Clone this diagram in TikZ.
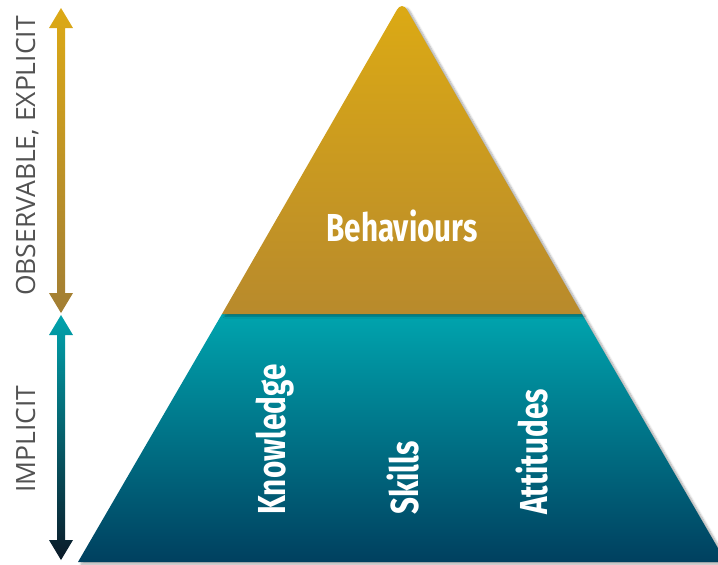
\documentclass[tikz,border=0pt]{standalone}
\usepackage{fontspec}
\setmainfont{Open Sans}
\newfontfamily\condfont[FakeStretch=0.76]{Fira Sans}
\usetikzlibrary{shadows.blur}
\definecolor{goldtop}{HTML}{DCAA14}
\definecolor{goldbot}{HTML}{B88A2C}
\definecolor{tealtop}{HTML}{00A4AE}
\definecolor{tealbot}{HTML}{00405F}
\definecolor{arrgoldtop}{HTML}{DCA916}
\definecolor{arrgoldbot}{HTML}{A27E34}
\definecolor{arrtealtop}{HTML}{00A3AD}
\definecolor{arrtealbot}{HTML}{0B1A28}
\tikzset{
  pyrshadow/.style={blur shadow={shadow xshift=3pt, shadow yshift=-2pt, shadow blur steps=6, shadow opacity=35}},
  sidelabel/.style={rotate=90, anchor=base, text=black!68, font=\fontsize{26.5}{26.5}\selectfont, inner sep=0pt},
  inlabel/.style={text=white, font=\condfont\bfseries\fontsize{39}{39}\selectfont, inner sep=0pt},
}
\begin{document}
\begin{tikzpicture}[x=1pt,y=-1pt]
\useasboundingbox (0,0) rectangle (718,565);
\clip (0,0) rectangle (718,565);
% pyramid lower part
\shade[pyrshadow, top color=tealtop, bottom color=tealbot]
  (78,562) -- (222,314) -- (582,314) -- (726,562) -- cycle;
% pyramid upper part
\shade[pyrshadow, top color=goldtop, bottom color=goldbot]
  (222,314) [rounded corners=10pt] -- (402,1) [sharp corners] -- (582,314) -- cycle;
% left arrows
\shade[top color=arrgoldtop, bottom color=arrgoldbot]
  (61,8) -- (73,28) -- (65,28) -- (65,293) -- (73,293) -- (61,313) -- (49,293) -- (57,293) -- (57,28) -- (49,28) -- cycle;
\shade[top color=arrtealtop, bottom color=arrtealbot]
  (61,315) -- (73,335) -- (65,335) -- (65,540) -- (73,540) -- (61,560) -- (49,540) -- (57,540) -- (57,335) -- (49,335) -- cycle;
% side labels
\node[sidelabel] (obs) at (35,156) {OBSERVABLE, EXPLICIT};
\node[sidelabel] (imp) at (35,439) {IMPLICIT};
% pyramid labels
\node[inlabel, anchor=base] (beh) at (402,241) {Behaviours};
\node[inlabel, rotate=90, anchor=base west] (kno) at (285,515) {Knowledge};
\node[inlabel, rotate=90, anchor=base west] (ski) at (418,515) {Skills};
\node[inlabel, rotate=90, anchor=base west] (att) at (547,515) {Attitudes};
\end{tikzpicture}
\end{document}
